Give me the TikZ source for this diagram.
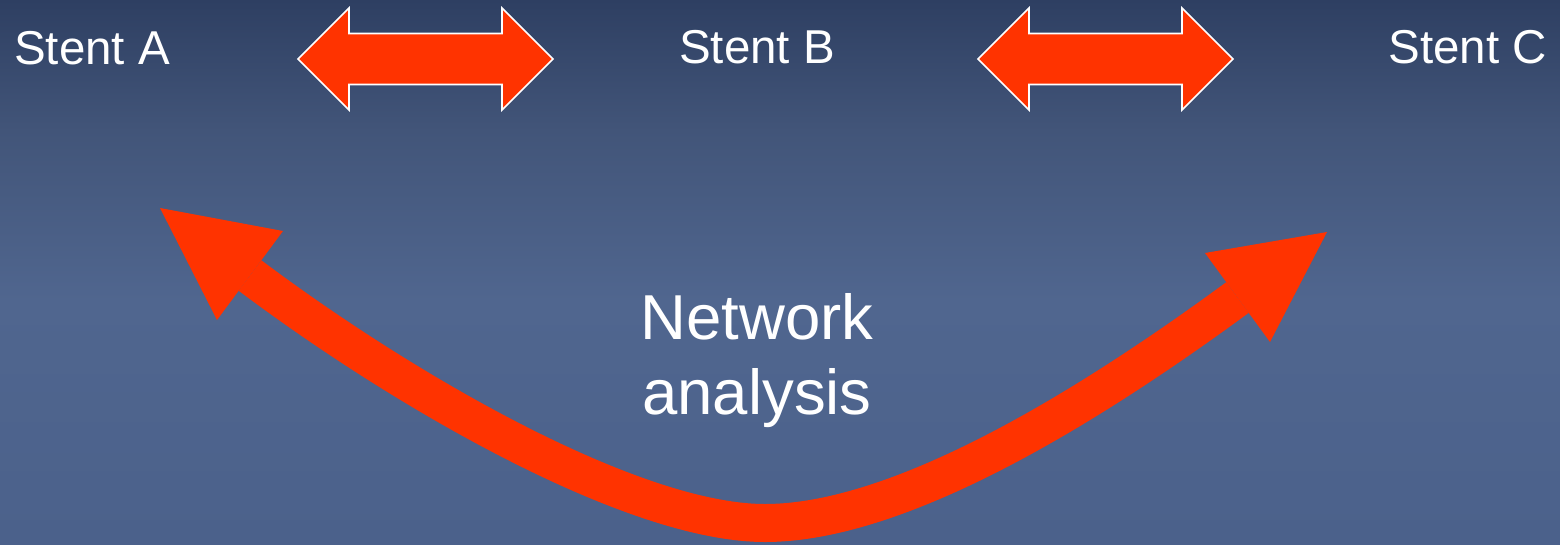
\documentclass[tikz,border=0pt]{standalone}
\usepackage{fontspec}
\setmainfont{Liberation Sans}
\definecolor{bgtop}{RGB}{46,63,98}
\definecolor{bgupper}{RGB}{66,85,121}
\definecolor{bgmid}{RGB}{80,102,143}
\definecolor{bgbot}{RGB}{75,97,139}
\definecolor{arrowred}{RGB}{255,51,0}
\tikzset{
  lbl/.style={text=white, inner sep=0pt, font=\fontsize{47.5}{57}\selectfont},
  big/.style={text=white, inner sep=0pt, font=\fontsize{63.5}{76}\selectfont},
  dbl/.style={fill=arrowred, draw=white, line width=1.6pt, line join=miter},
  curvearrow/.style={draw=arrowred, line width=38pt, line cap=butt},
  headfill/.style={fill=arrowred}
}
\begin{document}
\begin{tikzpicture}[x=1pt,y=-1pt]
\useasboundingbox (0,0) rectangle (1560,544);
% background gradient
\shade[top color=bgtop, bottom color=bgupper] (0,0) rectangle (1560,131);
\shade[top color=bgupper, bottom color=bgmid] (0,130) rectangle (1560,301);
\shade[top color=bgmid, bottom color=bgbot] (0,300) rectangle (1560,544);
% labels
\node[lbl, anchor=base west] (sa) at (14,64) {Stent A};
\node[lbl, anchor=base] (sb) at (757,63) {Stent B};
\node[lbl, anchor=base east] (sc) at (1547,63) {Stent C};
\node[big, anchor=base] (net) at (757,339) {Network};
\node[big, anchor=base] (ana) at (757,414) {analysis};
% double arrows
\draw[dbl] (298,59) -- (349,8) -- (349,33.5) -- (502,33.5) -- (502,8) -- (553,59) -- (502,110) -- (502,84.5) -- (349,84.5) -- (349,110) -- cycle;
\draw[dbl] (978,59) -- (1029,8) -- (1029,33.5) -- (1182,33.5) -- (1182,8) -- (1233,59) -- (1182,110) -- (1182,84.5) -- (1029,84.5) -- (1029,110) -- cycle;
% curved arrow
\coordinate (ls) at (250,275.5);
\coordinate (bot) at (765,523);
\coordinate (re) at (1237.5,297.5);
\draw[curvearrow] (ls) .. controls (410,395.5) and (635,523) .. (bot)
                       .. controls (895,523) and (1076.3,415.9) .. (re);
\fill[headfill] (160,208) -- (283,231) -- (217,320) -- cycle;
\fill[headfill] (1327,232) -- (1205,253) -- (1270,342) -- cycle;
\end{tikzpicture}
\end{document}
